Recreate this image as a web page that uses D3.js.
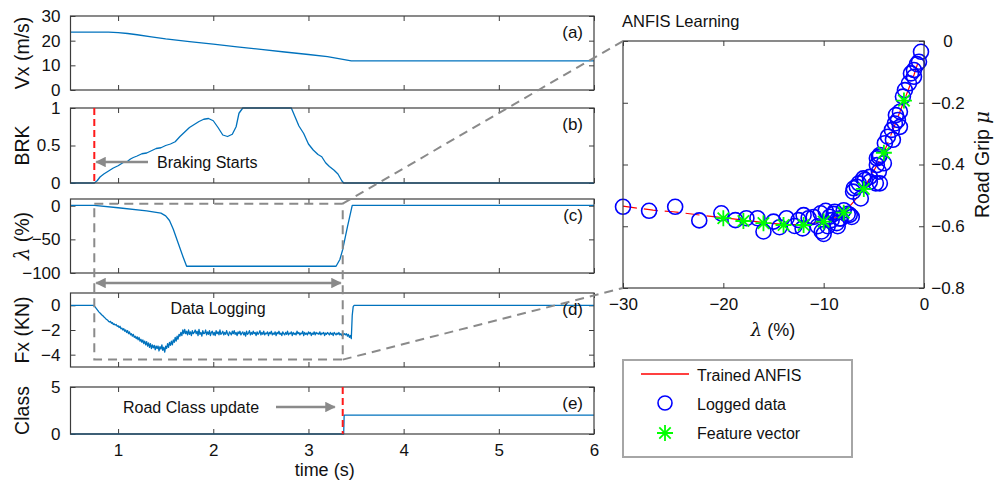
<!DOCTYPE html>
<html>
<head>
<meta charset="utf-8">
<script src="https://cdn.jsdelivr.net/npm/d3@7"></script>
<style>
  html, body { margin: 0; padding: 0; background: #fff; }
  svg { display: block; font-family: "Liberation Sans", Arial, sans-serif; }
</style>
</head>
<body>
<svg id="chart" width="996" height="480"></svg>
<script>
// ---------- time-series data (time in s) ----------
const timeTicks = [1, 2, 3, 4, 5, 6];

// longitudinal speed Vx (m/s)
const vxPoints = [
  [0.5, 23.5], [0.9, 23.5], [1.0, 23.3], [1.1, 22.9], [1.2, 22.4], [1.35, 21.5],
  [1.5, 20.7], [1.75, 19.6], [2.0, 18.6], [2.25, 17.5], [2.5, 16.5], [2.75, 15.4],
  [3.0, 14.4], [3.2, 13.5], [3.45, 11.8], [6.0, 11.8]
];

// brake command BRK (0..1)
const brkPoints = [
  [0.5, 0], [0.75, 0], [0.78, 0.03], [0.81, 0.08], [0.85, 0.12], [0.9, 0.16], [0.95, 0.2],
  [1.0, 0.23], [1.05, 0.27], [1.1, 0.29], [1.13, 0.32], [1.16, 0.34], [1.2, 0.36],
  [1.25, 0.39], [1.3, 0.4], [1.35, 0.43], [1.4, 0.46], [1.45, 0.47], [1.5, 0.5],
  [1.55, 0.52], [1.6, 0.55], [1.65, 0.62], [1.7, 0.68], [1.75, 0.74], [1.8, 0.78],
  [1.85, 0.82], [1.9, 0.85], [1.95, 0.86], [2.0, 0.83], [2.05, 0.74], [2.1, 0.64],
  [2.15, 0.62], [2.2, 0.65], [2.24, 0.75], [2.27, 0.93], [2.31, 1.0], [2.82, 1.0],
  [2.86, 0.88], [2.9, 0.76], [2.95, 0.66], [3.0, 0.52], [3.05, 0.44], [3.1, 0.38],
  [3.14, 0.35], [3.18, 0.27], [3.22, 0.22], [3.27, 0.17], [3.31, 0.12], [3.35, 0.03],
  [3.37, 0], [6.0, 0]
];

// wheel slip lambda (%)
const slipPoints = [
  [0.5, 0.5], [0.75, 0.5], [1.0, -3], [1.3, -7.5], [1.45, -11], [1.5, -15], [1.54, -22],
  [1.58, -35], [1.63, -55], [1.68, -75], [1.72, -90], [3.29, -90], [3.33, -80],
  [3.36, -65], [3.41, -31], [3.44, -12], [3.46, 0.5], [6.0, 0.5]
];

// longitudinal force Fx (kN), logged every 10 ms from 0.74 s
const fxStart = 0.74;
const fxStep = 0.01;
const fxValues = [
  0, -0.05, -0.15, -0.25, -0.35, -0.45, -0.55,
  -0.62, -0.7, -0.78, -0.85, -0.93, -1.0, -1.08, -1.15, -1.2, -1.3,
  -1.35, -1.3, -1.45, -1.4, -1.55, -1.5, -1.6, -1.55, -1.7, -1.65,
  -1.8, -1.7, -1.9, -1.85, -2.0, -1.9, -2.1, -2.0, -2.2, -2.05,
  -2.3, -2.15, -2.4, -2.3, -2.5, -2.35, -2.6, -2.5, -2.7, -2.55,
  -2.8, -2.6, -2.9, -2.75, -3.0, -2.8, -3.1, -2.9, -3.2, -2.95,
  -3.3, -3.05, -3.4, -3.1, -3.5, -3.2, -3.45, -3.25, -3.6, -3.3,
  -3.5, -3.3, -3.7, -3.35, -3.55, -3.2, -3.65, -3.4, -3.8, -3.3,
  -3.5, -3.1, -3.4, -3.0, -3.25, -2.9, -3.2, -2.8, -3.0, -2.6,
  -2.9, -2.5, -2.75, -2.35, -2.5, -2.2, -2.45, -2.0, -2.3, -1.95,
  -2.3, -2.1, -2.4, -2.0, -2.35, -2.15, -2.45, -2.05, -2.3, -2.2,
  -2.0, -2.3, -2.1, -2.45, -1.95, -2.35, -2.2, -2.5, -2.05, -2.3,
  -2.25, -2.0, -2.4, -2.15, -2.35, -2.05, -2.45, -2.2, -2.1, -2.4,
  -2.2, -2.45, -2.05, -2.3, -2.15, -2.4, -2.0, -2.35, -2.25, -2.1,
  -2.4, -2.2, -2.35, -2.05, -2.3, -2.45, -2.15, -2.25, -2.4, -2.1,
  -2.3, -2.05, -2.35, -2.2, -2.45, -2.15, -2.3, -2.1, -2.4, -2.25,
  -2.15, -2.4, -2.2, -2.5, -2.1, -2.35, -2.25, -2.05, -2.4, -2.2,
  -2.35, -2.1, -2.3, -2.2, -2.45, -2.15, -2.35, -2.25, -2.05, -2.4,
  -2.2, -2.35, -2.1, -2.4, -2.25, -2.3, -2.15, -2.45, -2.2, -2.3,
  -2.1, -2.4, -2.25, -2.35, -2.15, -2.45, -2.2, -2.3, -2.1, -2.35,
  -2.25, -2.45, -2.15, -2.3, -2.4, -2.2, -2.35, -2.1, -2.4, -2.25,
  -2.3, -2.15, -2.45, -2.2, -2.35, -2.25, -2.4, -2.1, -2.3, -2.2,
  -2.4, -2.25, -2.3, -2.1, -2.45, -2.2, -2.35, -2.25, -2.4, -2.15,
  -2.3, -2.2, -2.45, -2.25, -2.35, -2.15, -2.4, -2.2, -2.3, -2.25,
  -2.35, -2.15, -2.4, -2.25, -2.3, -2.2, -2.45, -2.25, -2.35, -2.2,
  -2.3, -2.4, -2.2, -2.35, -2.25, -2.45, -2.2, -2.3, -2.4, -2.25,
  -2.35, -2.2, -2.4, -2.3, -2.45, -2.25, -2.4, -2.3,
  -2.4, -2.3, -2.5, -2.35, -2.6, -2.45, -2.7, -0.8, -0.1, 0
];
const fxEnd = 6.0;

// road class estimate
const classPoints = [[0.5, 0], [3.37, 0], [3.375, 2], [6.0, 2]];

// event times (s)
const brakeStart = 0.75;
const classUpdate = 3.36;
const logWindow = [0.75, 3.36];

// ---------- ANFIS grip map data ----------
const slipTicks = [-30, -20, -10, 0];
const gripTicks = [-0.8, -0.6, -0.4, -0.2, 0];

const loggedSlip = [
  -30, -27.4, -24.8, -22.4, -20.2, -18.8, -17.7, -16.6, -16.0, -15.0, -14.4, -13.7,
  -12.9, -12.5, -12.1, -12.0, -11.5, -11.0, -10.6, -10.3, -10.2, -10.0, -9.8, -9.6,
  -9.4, -9.2, -9.0, -8.9, -8.7, -8.6, -8.4, -8.3, -8.0, -7.6, -7.4, -7.2, -7.07,
  -7.0, -6.7, -6.5, -6.3, -6.05, -5.9, -5.4, -5.4, -4.8, -4.7, -4.7, -4.5, -4.5,
  -4.4, -4.4, -4.0, -3.9, -3.6, -3.2, -3.1, -2.9, -2.8, -2.6, -2.4, -2.4, -2.1,
  -1.9, -1.5, -1.3, -1.0, -1.0, -0.7, -0.5, -0.3
];
const loggedGrip = [
  -0.537, -0.55, -0.537, -0.581, -0.558, -0.58, -0.574, -0.574, -0.617, -0.585, -0.603, -0.574,
  -0.599, -0.58, -0.607, -0.564, -0.574, -0.57, -0.6, -0.558, -0.617, -0.625, -0.55, -0.6,
  -0.569, -0.58, -0.56, -0.553, -0.59, -0.6, -0.575, -0.575, -0.548, -0.56, -0.563, -0.57, -0.488,
  -0.477, -0.472, -0.461, -0.51, -0.445, -0.45, -0.456, -0.44, -0.461, -0.402, -0.38, -0.375, -0.423,
  -0.461, -0.369, -0.396, -0.331, -0.31, -0.288, -0.32, -0.267, -0.24, -0.256, -0.229, -0.278, -0.18,
  -0.159, -0.137, -0.105, -0.094, -0.116, -0.075, -0.067, -0.035
];

const featureSlip = [-20, -18, -16, -14, -12, -10, -8, -6, -4, -2];
const featureGrip = [-0.574, -0.583, -0.59, -0.596, -0.596, -0.585, -0.556, -0.479, -0.362, -0.193];

const anfisSlip = [-30, -27, -25, -22, -20, -18, -16, -14, -12, -10, -9, -8, -7, -6, -5, -4, -3, -2, -1, -0.5];
const anfisGrip = [-0.535, -0.548, -0.553, -0.565, -0.572, -0.58, -0.588, -0.594, -0.595, -0.585,
  -0.574, -0.557, -0.52, -0.478, -0.42, -0.362, -0.28, -0.195, -0.11, -0.06];

// ---------- drawing ----------
const svg = d3.select("#chart");
const FRAME = "#3c3c3c";
const BLUE = "#0072bd";
const GREY = "#8a8a8a";
const TICK_FONT = 17;
const LABEL_FONT = 19.5;

const defs = svg.append("defs");
defs.append("marker").attr("id", "arrowGrey")
  .attr("viewBox", "0 0 10 10").attr("refX", 9).attr("refY", 5)
  .attr("markerWidth", 5).attr("markerHeight", 4.2).attr("orient", "auto-start-reverse")
  .attr("markerUnits", "strokeWidth")
  .append("path").attr("d", "M0,0L10,5L0,10Z").attr("fill", GREY);

const styleTicks = s => s.selectAll("text").attr("font-size", TICK_FONT).attr("fill", "#111")
  .attr("font-family", "Liberation Sans, Arial, sans-serif");

const xT = d3.scaleLinear().domain([0.5, 6]).range([70.5, 594]);

const panels = [
  { id: "a", top: 16, bottom: 90, domain: [0, 30], ticks: [0, 10, 20, 30], label: ["Vx (m/s)"], points: vxPoints },
  { id: "b", top: 108, bottom: 183, domain: [0, 1], ticks: [0, 0.5, 1], label: ["BRK"], points: brkPoints },
  { id: "c", top: 199, bottom: 273, domain: [-100, 10], ticks: [-100, -50, 0], label: ["λ", " (%)"], points: slipPoints },
  { id: "d", top: 293, bottom: 367, domain: [-5, 1], ticks: [-4, -2, 0], label: ["Fx (KN)"],
    points: [[0.5, 0]].concat(fxValues.map((v, i) => [fxStart + i * fxStep, v]), [[fxEnd, 0]]) },
  { id: "e", top: 387, bottom: 434, domain: [0, 5], ticks: [0, 5], label: ["Class"], points: classPoints }
];

const scalesY = {};
panels.forEach((p, idx) => {
  const y = d3.scaleLinear().domain(p.domain).range([p.bottom, p.top]);
  scalesY[p.id] = y;
  const g = svg.append("g").attr("class", "panel-" + p.id);
  const isLast = idx === panels.length - 1;

  // left axis with inward ticks
  g.append("g").attr("transform", `translate(${xT.range()[0]},0)`)
    .call(d3.axisLeft(y).tickValues(p.ticks).tickSize(-5).tickPadding(10).tickFormat(d3.format("~g")))
    .call(s => s.select(".domain").remove())
    .call(s => s.selectAll("line").attr("stroke", FRAME))
    .call(styleTicks);
  // mirrored right ticks
  g.append("g").attr("transform", `translate(${xT.range()[1]},0)`)
    .call(d3.axisRight(y).tickValues(p.ticks).tickSize(-5).tickFormat(""))
    .call(s => s.select(".domain").remove())
    .call(s => s.selectAll("line").attr("stroke", FRAME));
  // bottom + top time ticks
  g.append("g").attr("transform", `translate(0,${p.bottom})`)
    .call(d3.axisBottom(xT).tickValues(timeTicks).tickSize(-5).tickPadding(10)
      .tickFormat(isLast ? d3.format("d") : ""))
    .call(s => s.select(".domain").remove())
    .call(s => s.selectAll("line").attr("stroke", FRAME))
    .call(styleTicks);
  g.append("g").attr("transform", `translate(0,${p.top})`)
    .call(d3.axisTop(xT).tickValues(timeTicks).tickSize(-5).tickFormat(""))
    .call(s => s.select(".domain").remove())
    .call(s => s.selectAll("line").attr("stroke", FRAME));

  // signal
  const line = d3.line().x(d => xT(d[0])).y(d => y(d[1]));
  g.append("path").datum(p.points).attr("d", line)
    .attr("fill", "none").attr("stroke", BLUE).attr("stroke-width", 1.3).attr("stroke-linejoin", "round");

  // frame
  g.append("rect").attr("x", xT.range()[0]).attr("y", p.top)
    .attr("width", xT.range()[1] - xT.range()[0]).attr("height", p.bottom - p.top)
    .attr("fill", "none").attr("stroke", FRAME).attr("stroke-width", 1.2);

  // panel tag
  g.append("text").attr("x", 583).attr("y", p.top + 22).attr("text-anchor", "end")
    .attr("font-size", 17).attr("fill", "#111").text(`(${p.id})`);

  // y label
  const lab = g.append("text")
    .attr("transform", `translate(29,${(p.top + p.bottom) / 2}) rotate(-90)`)
    .attr("text-anchor", "middle").attr("font-size", LABEL_FONT).attr("fill", "#111");
  p.label.forEach(s => {
    const t = lab.append("tspan").text(s);
    if (s === "λ") t.attr("font-style", "italic").attr("font-family", "DejaVu Serif, serif");
  });
});

// x label of the time panels
svg.append("text").attr("x", xT(3.17)).attr("y", 476).attr("text-anchor", "middle")
  .attr("font-size", 18).attr("fill", "#111").text("time (s)");

// braking start marker and annotation
const yB = scalesY.b, yE = scalesY.e, yC = scalesY.c, yD = scalesY.d;
svg.append("line").attr("x1", xT(brakeStart)).attr("x2", xT(brakeStart))
  .attr("y1", yB(1)).attr("y2", yB(0))
  .attr("stroke", "#ff1a1a").attr("stroke-width", 2).attr("stroke-dasharray", "7,4");
svg.append("line").attr("x1", 148).attr("x2", xT(brakeStart) + 2).attr("y1", 162).attr("y2", 162)
  .attr("stroke", GREY).attr("stroke-width", 2.5).attr("marker-end", "url(#arrowGrey)");
svg.append("text").attr("x", 157).attr("y", 168).attr("font-size", 16).attr("fill", "#111").text("Braking Starts");

// class update marker and annotation
svg.append("line").attr("x1", xT(classUpdate)).attr("x2", xT(classUpdate))
  .attr("y1", yE(5)).attr("y2", yE(0))
  .attr("stroke", "#ff1a1a").attr("stroke-width", 2).attr("stroke-dasharray", "7,4");
svg.append("line").attr("x1", 276).attr("x2", xT(classUpdate) - 8).attr("y1", 407).attr("y2", 407)
  .attr("stroke", GREY).attr("stroke-width", 2.5).attr("marker-end", "url(#arrowGrey)");
svg.append("text").attr("x", 123).attr("y", 413).attr("font-size", 16).attr("fill", "#111").text("Road Class update");

// data logging window
const boxL = xT(logWindow[0]), boxR = xT(logWindow[1]);
const boxT = yC(3), boxB = yD(-4.4);
svg.append("rect").attr("x", boxL).attr("y", boxT).attr("width", boxR - boxL).attr("height", boxB - boxT)
  .attr("fill", "none").attr("stroke", GREY).attr("stroke-width", 2).attr("stroke-dasharray", "9,6");
svg.append("line").attr("x1", boxL + 2).attr("x2", boxR - 2).attr("y1", 283).attr("y2", 283)
  .attr("stroke", GREY).attr("stroke-width", 2.5)
  .attr("marker-start", "url(#arrowGrey)").attr("marker-end", "url(#arrowGrey)");
svg.append("text").attr("x", 218).attr("y", 314).attr("text-anchor", "middle")
  .attr("font-size", 16).attr("fill", "#111").text("Data Logging");

// ---------- ANFIS grip map ----------
const xs = d3.scaleLinear().domain([-30, 0]).range([623, 924]);
const ys = d3.scaleLinear().domain([-0.8, 0]).range([288, 41]);
const sg = svg.append("g").attr("class", "grip");

sg.append("g").attr("transform", `translate(0,${ys.range()[0]})`)
  .call(d3.axisBottom(xs).tickValues(slipTicks).tickSize(-5).tickPadding(10).tickFormat(d3.format("d")))
  .call(s => s.select(".domain").remove())
  .call(s => s.selectAll("line").attr("stroke", FRAME))
  .call(styleTicks);
sg.append("g").attr("transform", `translate(0,${ys.range()[1]})`)
  .call(d3.axisTop(xs).tickValues(slipTicks).tickSize(-5).tickFormat(""))
  .call(s => s.select(".domain").remove())
  .call(s => s.selectAll("line").attr("stroke", FRAME));
sg.append("g").attr("transform", `translate(${xs.range()[1]},0)`)
  .call(d3.axisRight(ys).tickValues(gripTicks).tickSize(-5).tickPadding(24).tickFormat(d3.format("~g")))
  .call(s => s.select(".domain").remove())
  .call(s => s.selectAll("line").attr("stroke", FRAME))
  .call(styleTicks)
  .call(s => s.selectAll("text").attr("text-anchor", "middle"));
sg.append("g").attr("transform", `translate(${xs.range()[0]},0)`)
  .call(d3.axisLeft(ys).tickValues(gripTicks).tickSize(-5).tickFormat(""))
  .call(s => s.select(".domain").remove())
  .call(s => s.selectAll("line").attr("stroke", FRAME));

// trained ANFIS curve
const anfis = anfisSlip.map((v, i) => [v, anfisGrip[i]]);
sg.append("path").datum(anfis)
  .attr("d", d3.line().x(d => xs(d[0])).y(d => ys(d[1])))
  .attr("fill", "none").attr("stroke", "#ff0000").attr("stroke-width", 1.2)
  .attr("stroke-dasharray", "14,7");

// logged data
sg.selectAll("circle.logged").data(loggedSlip.map((v, i) => [v, loggedGrip[i]]))
  .join("circle").attr("class", "logged")
  .attr("cx", d => xs(d[0])).attr("cy", d => ys(d[1])).attr("r", 7.5)
  .attr("fill", "none").attr("stroke", "#0000ff").attr("stroke-width", 1.6);

// feature vectors
const star = "M-8,0L8,0M0,-8L0,8M-5.7,-5.7L5.7,5.7M-5.7,5.7L5.7,-5.7";
sg.selectAll("path.feature").data(featureSlip.map((v, i) => [v, featureGrip[i]]))
  .join("path").attr("class", "feature")
  .attr("transform", d => `translate(${xs(d[0])},${ys(d[1])})`)
  .attr("d", star).attr("fill", "none").attr("stroke", "#00ff00").attr("stroke-width", 1.8);

sg.append("rect").attr("x", xs.range()[0]).attr("y", ys.range()[1])
  .attr("width", xs.range()[1] - xs.range()[0]).attr("height", ys.range()[0] - ys.range()[1])
  .attr("fill", "none").attr("stroke", FRAME).attr("stroke-width", 1.2);

sg.append("text").attr("x", 622).attr("y", 27).attr("font-size", 16.5).attr("fill", "#111").text("ANFIS Learning");
const xl = sg.append("text").attr("x", 773).attr("y", 336).attr("text-anchor", "middle").attr("font-size", 18).attr("fill", "#111");
xl.append("tspan").attr("font-style", "italic").attr("font-family", "DejaVu Serif, serif").text("λ");
xl.append("tspan").text(" (%)");
const yl = sg.append("text").attr("transform", `translate(989,${(ys.range()[0] + ys.range()[1]) / 2}) rotate(-90)`)
  .attr("text-anchor", "middle").attr("font-size", LABEL_FONT).attr("fill", "#111");
yl.append("tspan").text("Road Grip ");
yl.append("tspan").attr("font-style", "italic").attr("font-family", "DejaVu Serif, serif").text("μ");

// zoom connectors from the logging window to the grip map
svg.append("line").attr("x1", boxR).attr("y1", boxT).attr("x2", xs.range()[0]).attr("y2", ys.range()[1])
  .attr("stroke", GREY).attr("stroke-width", 2).attr("stroke-dasharray", "9,6");
svg.append("line").attr("x1", boxR).attr("y1", boxB).attr("x2", xs.range()[0]).attr("y2", ys.range()[0])
  .attr("stroke", GREY).attr("stroke-width", 2).attr("stroke-dasharray", "9,6");

// legend
const lg = svg.append("g").attr("class", "legend");
lg.append("rect").attr("x", 623).attr("y", 360).attr("width", 229).attr("height", 97)
  .attr("fill", "#fff").attr("stroke", "#a6a6a6").attr("stroke-width", 2);
lg.append("line").attr("x1", 641).attr("x2", 689).attr("y1", 374).attr("y2", 374)
  .attr("stroke", "#ff0000").attr("stroke-width", 1.5);
lg.append("circle").attr("cx", 665).attr("cy", 403).attr("r", 7)
  .attr("fill", "none").attr("stroke", "#0000ff").attr("stroke-width", 1.6);
lg.append("path").attr("transform", "translate(665,433)").attr("d", star)
  .attr("fill", "none").attr("stroke", "#00ff00").attr("stroke-width", 1.8);
[["Trained ANFIS", 381], ["Logged data", 410], ["Feature vector", 439]].forEach(([t, y]) => {
  lg.append("text").attr("x", 697).attr("y", y).attr("font-size", 16).attr("fill", "#111").text(t);
});
</script>
</body>
</html>
